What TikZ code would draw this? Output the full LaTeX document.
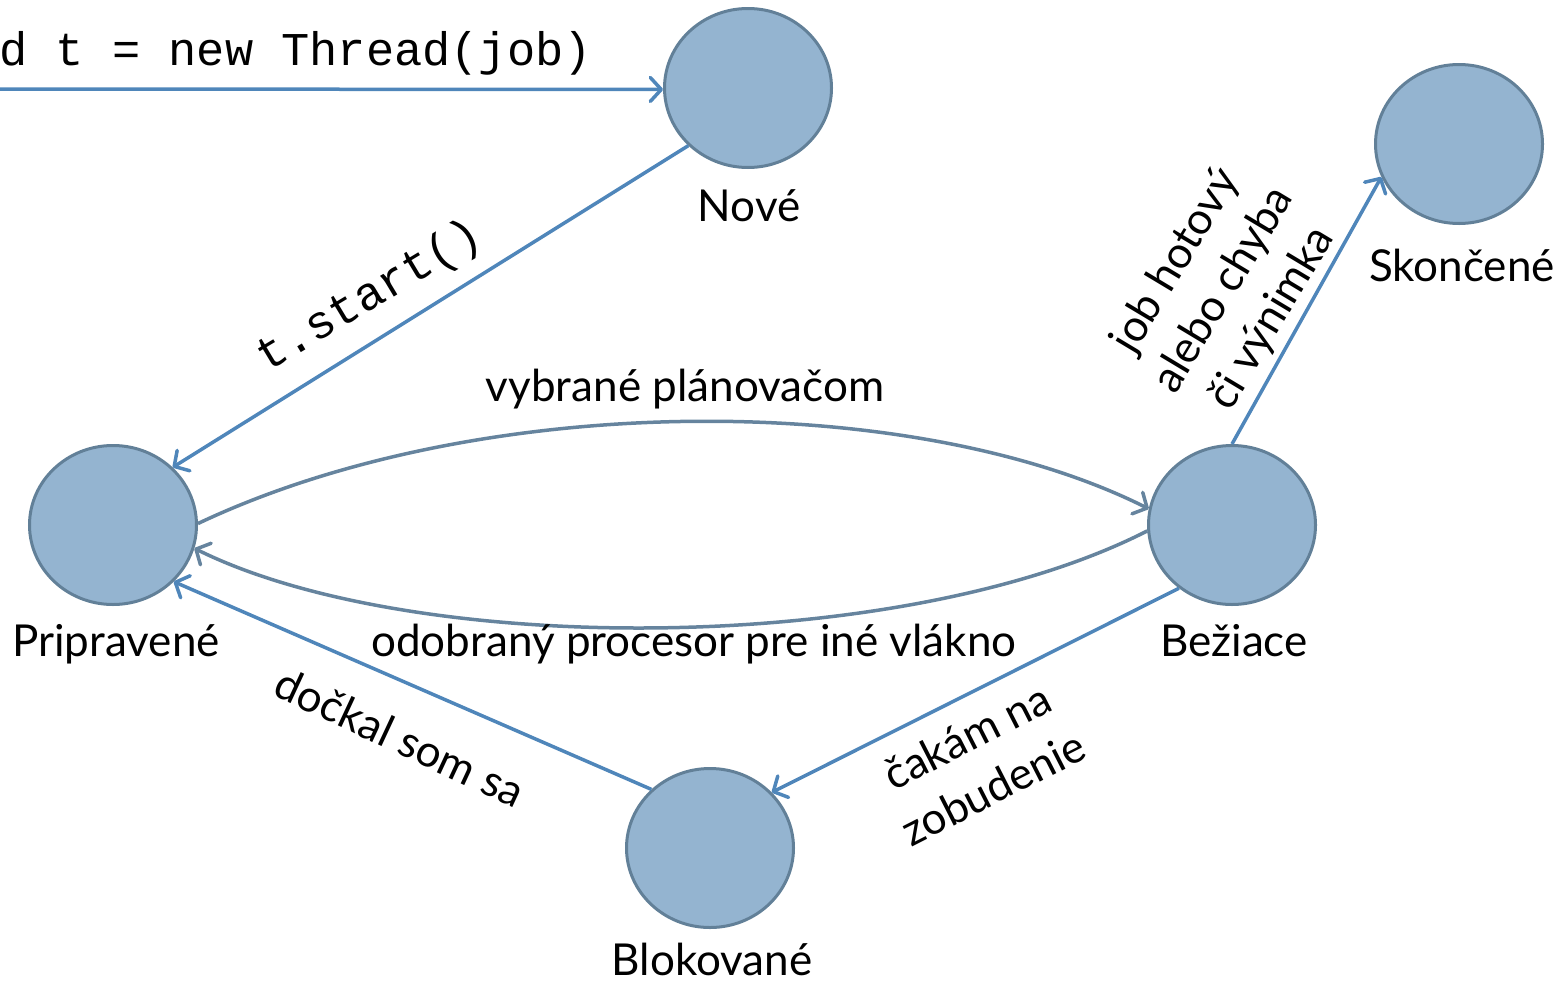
\documentclass[tikz,border=0pt]{standalone}
\usepackage{fontspec}
\setmainfont{Lato}
\newfontfamily\codefont{Liberation Mono}
\usetikzlibrary{shapes.geometric,arrows.meta}
\definecolor{statefill}{RGB}{148,180,208}
\definecolor{statedraw}{RGB}{98,128,152}
\definecolor{blueline}{RGB}{79,134,186}
\definecolor{grayline}{RGB}{102,132,158}
\tikzset{
  state/.style={ellipse,draw=statedraw,fill=statefill,line width=3pt,minimum width=167pt,minimum height=159pt,inner sep=0pt},
  lbl/.style={font=\fontsize{44}{56}\selectfont,inner sep=0pt,text=black},
  code/.style={font=\codefont\fontsize{47}{52}\selectfont,inner sep=0pt,text=black},
  tip/.style={-{Straight Barb[length=11pt,width=24pt,line cap=round,line join=round]}},
  bl/.style={tip,draw=blueline,line width=3.5pt},
  gl/.style={tip,draw=grayline,line width=3.5pt}
}
\begin{document}
\begin{tikzpicture}[x=1pt,y=-1pt]
\useasboundingbox (0,0) rectangle (1565,983);
% states
\node[state] (nove) at (748,88) {};
\node[state] (skon) at (1459,144) {};
\node[state] (prip) at (113,525) {};
\node[state] (bez) at (1232,525) {};
\node[state] (blok) at (710,848) {};
% state names
\node[lbl,anchor=base] (tnove) at (749,221) {Nové};
\node[lbl,anchor=base] (tskon) at (1462,281) {Skončené};
\node[lbl,anchor=base] (tprip) at (116,656) {Pripravené};
\node[lbl,anchor=base] (tbez) at (1234,656) {Bežiace};
\node[lbl,anchor=base] (tblok) at (712,975) {Blokované};
% start
\coordinate (start) at (0,89);
\draw[bl] (start) -- (nove.181);
\node[code,anchor=base east] (tnew) at (592,65) {d t = new Thread(job)};
% transitions
\draw[bl] (nove.224) -- (prip.44);
\node[code,rotate=31] (tstart) at (370,297) {t.start()};
\draw[gl] (prip.1) .. controls (480,390) and (912,390) .. (bez.169);
\node[lbl,anchor=base] (tvyb) at (685,401) {vybrané plánovačom};
\draw[gl] (bez.184) .. controls (900,657) and (413,657) .. (prip.344);
\node[lbl,anchor=base] (todo) at (694,656) {odobraný procesor pre iné vlákno};
\draw[bl] (bez.230) -- (blok.42);
\node[lbl,rotate=27,align=center,font=\fontsize{44}{58}\selectfont] (tcak) at (980,762) {čakám na\\zobudenie};
\draw[bl] (blok.135) -- (prip.317);
\node[lbl,rotate=-25] (tdoc) at (400,737) {dočkal som sa};
\draw[bl] (bez.90) -- (skon.203);
\node[lbl,rotate=59,align=center,font=\fontsize{44}{56}\selectfont] (tjob) at (1224,290) {job hotový\\alebo chyba\\či výnimka};
\end{tikzpicture}
\end{document}
